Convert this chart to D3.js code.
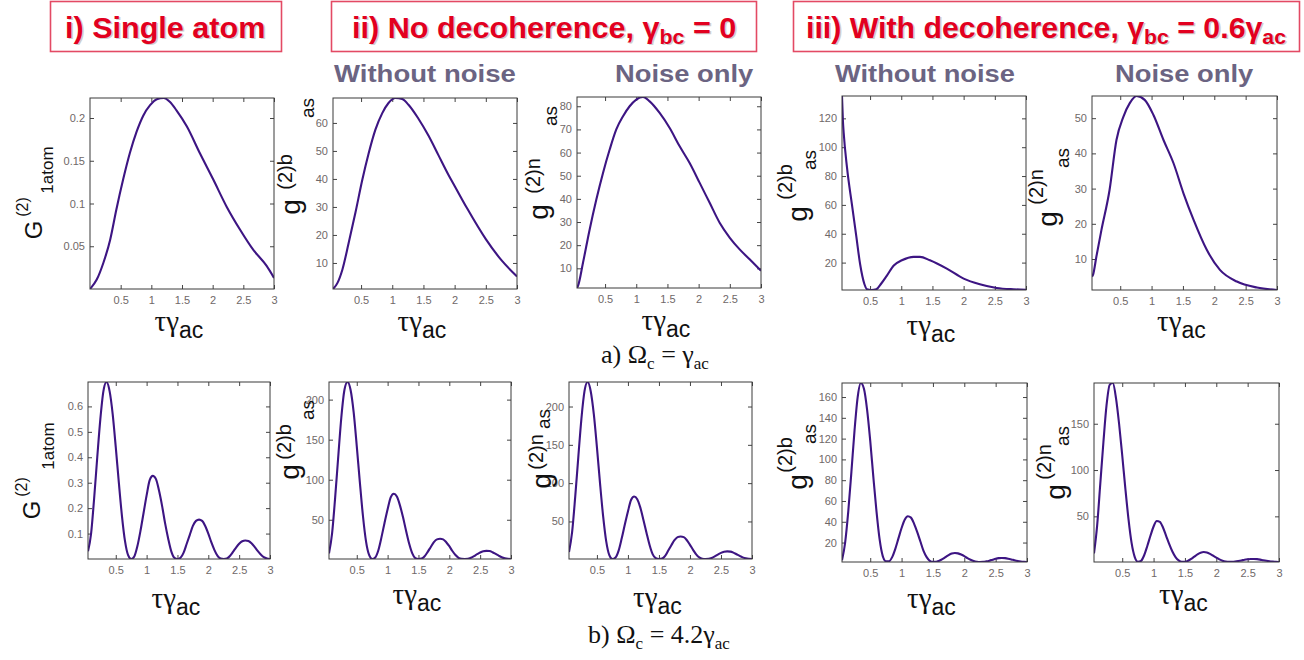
<!DOCTYPE html>
<html>
<head>
<meta charset="utf-8">
<script src="https://cdn.jsdelivr.net/npm/d3@7"></script>
<style>
  body { margin: 0; background: #fff; }
  svg { display: block; }
  text { font-family: Arial, "Liberation Sans", sans-serif; }
</style>
</head>
<body>
<svg id="fig" width="1304" height="660"></svg>
<script>
// ---- data ----
const xTicks = [0.5, 1, 1.5, 2, 2.5, 3];

// row a) Omega_c = gamma_ac
const tauA1 = [0, 0.11, 0.22, 0.33, 0.43, 0.54, 0.65, 0.76, 0.87, 0.98, 1.09, 1.2, 1.3, 1.41, 1.58, 1.79, 2.01, 2.23, 2.45, 2.66, 2.88, 3];
const gA1 = [0, 0.011, 0.031, 0.058, 0.093, 0.128, 0.159, 0.184, 0.203, 0.215, 0.222, 0.2234, 0.219, 0.209, 0.19, 0.159, 0.128, 0.096, 0.069, 0.046, 0.027, 0.013];
const yTicksA1 = [0.05, 0.1, 0.15, 0.2];

const tauA2 = [0.05, 0.12, 0.2, 0.3, 0.41, 0.52, 0.62, 0.73, 0.84, 0.94, 1.05, 1.16, 1.26, 1.42, 1.58, 1.74, 1.9, 2, 2.2, 2.5, 2.75, 3];
const gA2 = [0.7, 2.8, 7.6, 17, 28, 39.7, 49, 57.6, 63.5, 67.1, 68.9, 68.5, 66.5, 61.5, 55.5, 48.5, 41.5, 37.5, 29.5, 18.5, 11, 5.2];
const yTicksA2 = [10, 20, 30, 40, 50, 60];

const tauA3 = [0.05, 0.066, 0.146, 0.253, 0.36, 0.467, 0.574, 0.68, 0.788, 0.894, 1, 1.108, 1.215, 1.375, 1.536, 1.696, 1.856, 2.017, 2.177, 2.337, 2.5, 2.658, 2.818, 3];
const gA3 = [1.5, 2.4, 12.4, 26.8, 39.7, 51.2, 61.3, 70, 75.7, 80, 82.9, 84, 82.1, 77.1, 70.6, 62.7, 55.5, 46.9, 38.3, 29.7, 23.2, 18.2, 13.9, 8.9];
const yTicksA3 = [10, 20, 30, 40, 50, 60, 70, 80];

const tauA4 = [0.05, 0.065, 0.077, 0.13, 0.21, 0.28, 0.34, 0.41, 0.45, 0.52, 0.6, 0.68, 0.77, 0.88, 1.01, 1.2, 1.3, 1.46, 1.73, 2, 2.26, 2.53, 2.8, 3];
const gA4 = [135.5, 118, 110, 86, 60, 38, 19, 5, 1.5, 1, 1.5, 5.5, 11, 18, 21.6, 24, 24, 21.6, 15.8, 8.9, 5, 2.4, 1.5, 1.2];
const yTicksA4 = [20, 40, 60, 80, 100, 120];

const tauA5 = [0.05, 0.066, 0.12, 0.2, 0.33, 0.44, 0.55, 0.65, 0.76, 0.89, 1.03, 1.19, 1.35, 1.51, 1.67, 1.88, 2.09, 2.36, 2.68, 3];
const gA5 = [5, 5.5, 10.7, 18.2, 29.6, 43.8, 50.4, 54.2, 56.3, 55.2, 50.9, 43.8, 37.2, 28.6, 21.1, 12.6, 6.9, 3.6, 1.9, 1.2];
const yTicksA5 = [10, 20, 30, 40, 50];

// row b) Omega_c = 4.2 gamma_ac
const tauB = [0.05, 0.1, 0.15, 0.2, 0.25, 0.3, 0.35, 0.4, 0.45, 0.5, 0.55, 0.6, 0.65, 0.7, 0.75,
  0.8, 0.85, 0.9, 0.95, 1, 1.05, 1.1, 1.15, 1.2, 1.25, 1.3, 1.35, 1.4, 1.45, 1.5,
  1.55, 1.6, 1.65, 1.7, 1.75, 1.8, 1.85, 1.9, 1.95, 2, 2.05, 2.1, 2.15, 2.2, 2.25,
  2.3, 2.35, 2.4, 2.45, 2.5, 2.55, 2.6, 2.65, 2.7, 2.75, 2.8, 2.85, 2.9, 2.95, 3];
const gB1 = [0.03, 0.10, 0.24, 0.40, 0.55, 0.66, 0.696, 0.66, 0.57, 0.44, 0.30, 0.17, 0.07, 0.015, 0,
  0.01, 0.05, 0.11, 0.18, 0.25, 0.31, 0.327, 0.315, 0.27, 0.21, 0.14, 0.08, 0.03, 0.005, 0,
  0.005, 0.025, 0.06, 0.095, 0.13, 0.15, 0.155, 0.15, 0.13, 0.10, 0.065, 0.035, 0.012, 0.002, 0,
  0.002, 0.012, 0.028, 0.045, 0.06, 0.07, 0.073, 0.071, 0.062, 0.048, 0.032, 0.018, 0.007, 0.002, 0];
const yTicksB1 = [0.1, 0.2, 0.3, 0.4, 0.5, 0.6];

const gB2 = [8, 33, 78, 129, 178, 212, 222, 212, 184, 142, 97, 55, 23, 6, 1,
  3, 12, 28, 46, 63, 78, 82.5, 79, 68, 53, 36, 20, 8, 2, 1,
  1.5, 4.5, 10, 16, 22, 25.5, 26.3, 25.5, 22, 17, 11, 6, 2.5, 1.2, 1,
  1.2, 2.5, 4.5, 7, 9.2, 10.7, 11.2, 10.9, 9.5, 7.4, 5.2, 3.2, 1.9, 1.2, 1];
const yTicksB2 = [50, 100, 150, 200];

const gB3 = [10, 36, 82, 134, 184, 220, 232, 220, 190, 147, 100, 57, 24, 6, 1,
  3, 12, 28, 46, 63, 78, 82.6, 79, 68, 52, 35, 19, 7, 2, 1,
  1.5, 5, 12, 19, 25.5, 29.5, 30.4, 29.5, 25.5, 19.5, 13, 7, 3, 1.3, 1,
  1.2, 2.4, 4.4, 6.8, 9, 10.4, 10.9, 10.6, 9.3, 7.2, 5, 3.1, 1.8, 1.2, 1];
const yTicksB3 = [50, 100, 150, 200];

const gB4 = [3, 20, 50, 88, 128, 160, 173.5, 168, 148, 118, 83, 50, 23, 7, 2,
  2, 6, 14, 24, 34, 42, 45.3, 44, 38, 30, 21, 12, 6, 2.5, 1.5,
  1.5, 2.5, 4, 6, 8, 9.5, 10, 9.6, 8.5, 7, 5, 3.5, 2.3, 1.6, 1.3,
  1.4, 1.9, 2.6, 3.5, 4.4, 5, 5.2, 5, 4.5, 3.8, 3, 2.3, 1.8, 1.5, 1.3];
const yTicksB4 = [20, 40, 60, 80, 100, 120, 140, 160];

const gB5 = [10, 40, 85, 130, 170, 192, 194, 178, 150, 116, 80, 47, 21, 6, 1,
  2, 8, 18, 29, 39, 45, 44, 38, 29, 20, 12, 6, 2.5, 1, 1,
  2, 4, 6.5, 9, 10.8, 11.5, 11, 9.5, 7.5, 5.5, 3.5, 2, 1.2, 0.9, 1,
  1.3, 1.8, 2.4, 3.1, 3.6, 4, 4, 3.8, 3.3, 2.6, 2, 1.5, 1.1, 0.9, 0.7];
const yTicksB5 = [50, 100, 150];

// ---- layout ----
const svg = d3.select("#fig");
const lineColor = "#3d1583";
const tickColor = "#6f6868";

// box: [left, top, right, bottom]; lab: centres of main / sup / sub pieces; xl: x-label baseline
const panels = [
  { tau: tauA1, val: gA1, yt: yTicksA1, box: [90, 98, 274, 289], big: false, main: "G", sup: "(2)", sub: "1atom",
    lab: [[33, 230], [22, 207], [47, 170]], xl: 331 },
  { tau: tauA2, val: gA2, yt: yTicksA2, box: [333, 98, 517, 289], big: true, main: "g", sup: "(2)b", sub: "as",
    lab: [[290, 207], [285, 172], [307, 108]], xl: 331 },
  { tau: tauA3, val: gA3, yt: yTicksA3, box: [577, 97, 761, 288], big: true, main: "g", sup: "(2)n", sub: "as",
    lab: [[538, 212], [533, 176], [550, 116]], xl: 330 },
  { tau: tauA4, val: gA4, yt: yTicksA4, box: [842, 96, 1026, 290], big: true, main: "g", sup: "(2)b", sub: "as",
    lab: [[797, 214], [785, 182], [809, 160]], xl: 335 },
  { tau: tauA5, val: gA5, yt: yTicksA5, box: [1092, 96, 1277, 290], big: true, main: "g", sup: "(2)n", sub: "as",
    lab: [[1047, 219], [1036, 187], [1062, 158]], xl: 331 },
  { tau: tauB, val: gB1, yt: yTicksB1, box: [88, 382, 270, 559], big: false, main: "G", sup: "(2)", sub: "1atom",
    lab: [[31, 510], [21, 487], [48, 446]], xl: 608 },
  { tau: tauB, val: gB2, yt: yTicksB2, box: [329, 382, 511, 559], big: true, main: "g", sup: "(2)b", sub: "as",
    lab: [[289, 472], [284, 442], [307, 410]], xl: 604 },
  { tau: tauB, val: gB3, yt: yTicksB3, box: [569, 382, 752, 559], big: true, main: "g", sup: "(2)n", sub: "as",
    lab: [[541, 481], [536, 452], [543, 419]], xl: 607 },
  { tau: tauB, val: gB4, yt: yTicksB4, box: [842, 383, 1027, 562], big: true, main: "g", sup: "(2)b", sub: "as",
    lab: [[797, 482], [785, 455], [809, 434]], xl: 608 },
  { tau: tauB, val: gB5, yt: yTicksB5, box: [1094, 383, 1279, 562], big: true, main: "g", sup: "(2)n", sub: "as",
    lab: [[1055, 492], [1044, 462], [1062, 436]], xl: 604 }
];

function styleAxis(sel, showText) {
  sel.select(".domain").remove();
  sel.selectAll(".tick line").attr("stroke", "#444");
  sel.selectAll(".tick text")
    .attr("fill", tickColor)
    .style("font-size", "11px")
    .style("font-family", "Arial, 'Liberation Sans', sans-serif")
    .style("display", showText ? null : "none");
}

function rotText(cx, cy, str, size) {
  svg.append("text")
    .attr("transform", `translate(${cx},${cy}) rotate(-90)`)
    .attr("text-anchor", "middle")
    .attr("dominant-baseline", "central")
    .attr("fill", "#111")
    .style("font-size", size + "px")
    .text(str);
}

panels.forEach((p, i) => {
  const [l, t, r, b] = p.box;
  const x = d3.scaleLinear().domain(d3.extent(p.tau)).range([l, r]);
  const y = d3.scaleLinear().domain(d3.extent(p.val)).range([b, t]);
  const fmt = d3.format("");
  const tk = 4;

  svg.append("g").attr("transform", `translate(0,${b})`)
    .call(d3.axisBottom(x).tickValues(xTicks).tickSize(-tk).tickPadding(7).tickFormat(fmt))
    .call(s => styleAxis(s, true));
  svg.append("g").attr("transform", `translate(0,${t})`)
    .call(d3.axisTop(x).tickValues(xTicks).tickSize(-tk).tickFormat(""))
    .call(s => styleAxis(s, false));
  svg.append("g").attr("transform", `translate(${l},0)`)
    .call(d3.axisLeft(y).tickValues(p.yt).tickSize(-tk).tickPadding(5).tickFormat(fmt))
    .call(s => styleAxis(s, true));
  svg.append("g").attr("transform", `translate(${r},0)`)
    .call(d3.axisRight(y).tickValues(p.yt).tickSize(-tk).tickFormat(""))
    .call(s => styleAxis(s, false));

  svg.append("clipPath").attr("id", "clip" + i)
    .append("rect").attr("x", l).attr("y", t).attr("width", r - l).attr("height", b - t);

  const line = d3.line()
    .x((d, j) => x(p.tau[j]))
    .y(d => y(d))
    .curve(d3.curveMonotoneX);

  svg.append("path")
    .attr("clip-path", `url(#clip${i})`)
    .attr("d", line(p.val))
    .attr("fill", "none")
    .attr("stroke", lineColor)
    .attr("stroke-width", 2.1)
    .attr("stroke-linejoin", "round");

  svg.append("rect")
    .attr("x", l).attr("y", t).attr("width", r - l).attr("height", b - t)
    .attr("fill", "none").attr("stroke", "#3a3a3a").attr("stroke-width", 1);

  // y label: main, superscript, subscript (MATLAB style, sub after sup)
  const sz = p.big ? [28, 20, 19] : [24, 16, 17];
  rotText(p.lab[0][0], p.lab[0][1], p.main, sz[0]);
  rotText(p.lab[1][0], p.lab[1][1], p.sup, sz[1]);
  rotText(p.lab[2][0], p.lab[2][1], p.sub, sz[2]);

  // x label
  const xt = svg.append("text")
    .attr("x", (l + r) / 2 - 3).attr("y", p.xl)
    .attr("text-anchor", "middle").attr("fill", "#111");
  xt.append("tspan").style("font-family", "'Liberation Serif', 'Times New Roman', serif")
    .style("font-size", "29px").text("τγ");
  xt.append("tspan").style("font-size", "23px").attr("dy", 7).text("ac");
});

// ---- captions ----
function caption(cx, base, parts) {
  const t = svg.append("text").attr("x", cx).attr("y", base).attr("text-anchor", "middle")
    .attr("fill", "#111")
    .style("font-family", "'Liberation Serif', 'Times New Roman', serif")
    .style("font-size", "26px");
  let shift = 0;
  parts.forEach(([s, sub]) => {
    const dy = (sub ? 6 : 0) - shift;
    shift = sub ? 6 : 0;
    t.append("tspan").attr("dy", dy).style("font-size", sub ? "17px" : "26px").text(s);
  });
}
caption(655, 363, [["a) Ω", 0], ["c", 1], [" = γ", 0], ["ac", 1]]);
caption(659, 643, [["b) Ω", 0], ["c", 1], [" = 4.2γ", 0], ["ac", 1]]);

// ---- header boxes ----
function fitGroup(g, left, right) {
  const bb = g.node().getBBox();
  const sx = (right - left) / bb.width;
  g.attr("transform", `translate(${left - bb.x * sx},0) scale(${sx},1)`);
}

function header(rect, fit, parts) {
  svg.append("rect").attr("x", rect[0]).attr("y", rect[1]).attr("width", rect[2]).attr("height", rect[3])
    .attr("fill", "#fff").attr("stroke", "#e34a64").attr("stroke-width", 1.6);
  const g = svg.append("g");
  [["#cfcfcf", 1.5], ["#e2001f", 0]].forEach(([col, off]) => {
    const t = g.append("text").attr("x", off).attr("y", 38 + off)
      .attr("fill", col).style("font-weight", "bold").style("font-size", "30px");
    let shift = 0;
    parts.forEach(([s, sub]) => {
      const dy = (sub ? 6 : 0) - shift;
      shift = sub ? 6 : 0;
      t.append("tspan").attr("dy", dy).style("font-size", sub ? "21px" : "30px").text(s);
    });
  });
  fitGroup(g, fit[0], fit[1]);
}
header([50.5, 1.5, 231, 50], [65, 267], [["i) Single atom", 0]]);
header([331.5, 1.5, 425, 50], [352, 738], [["ii) No decoherence, γ", 0], ["bc", 1], [" = 0", 0]]);
header([793.5, 1.5, 506, 50], [806, 1288], [["iii) With decoherence, γ", 0], ["bc", 1], [" = 0.6γ", 0], ["ac", 1]]);

// ---- sub-headers ----
const subHeads = [["Without noise", 334, 516], ["Noise only", 615, 754], ["Without noise", 835, 1015], ["Noise only", 1115, 1254]];
subHeads.forEach(([s, a, z]) => {
  const g = svg.append("g");
  g.append("text").attr("y", 82).attr("fill", "#6b6482")
    .style("font-weight", "bold").style("font-size", "24px").text(s);
  fitGroup(g, a, z);
});
</script>
</body>
</html>
